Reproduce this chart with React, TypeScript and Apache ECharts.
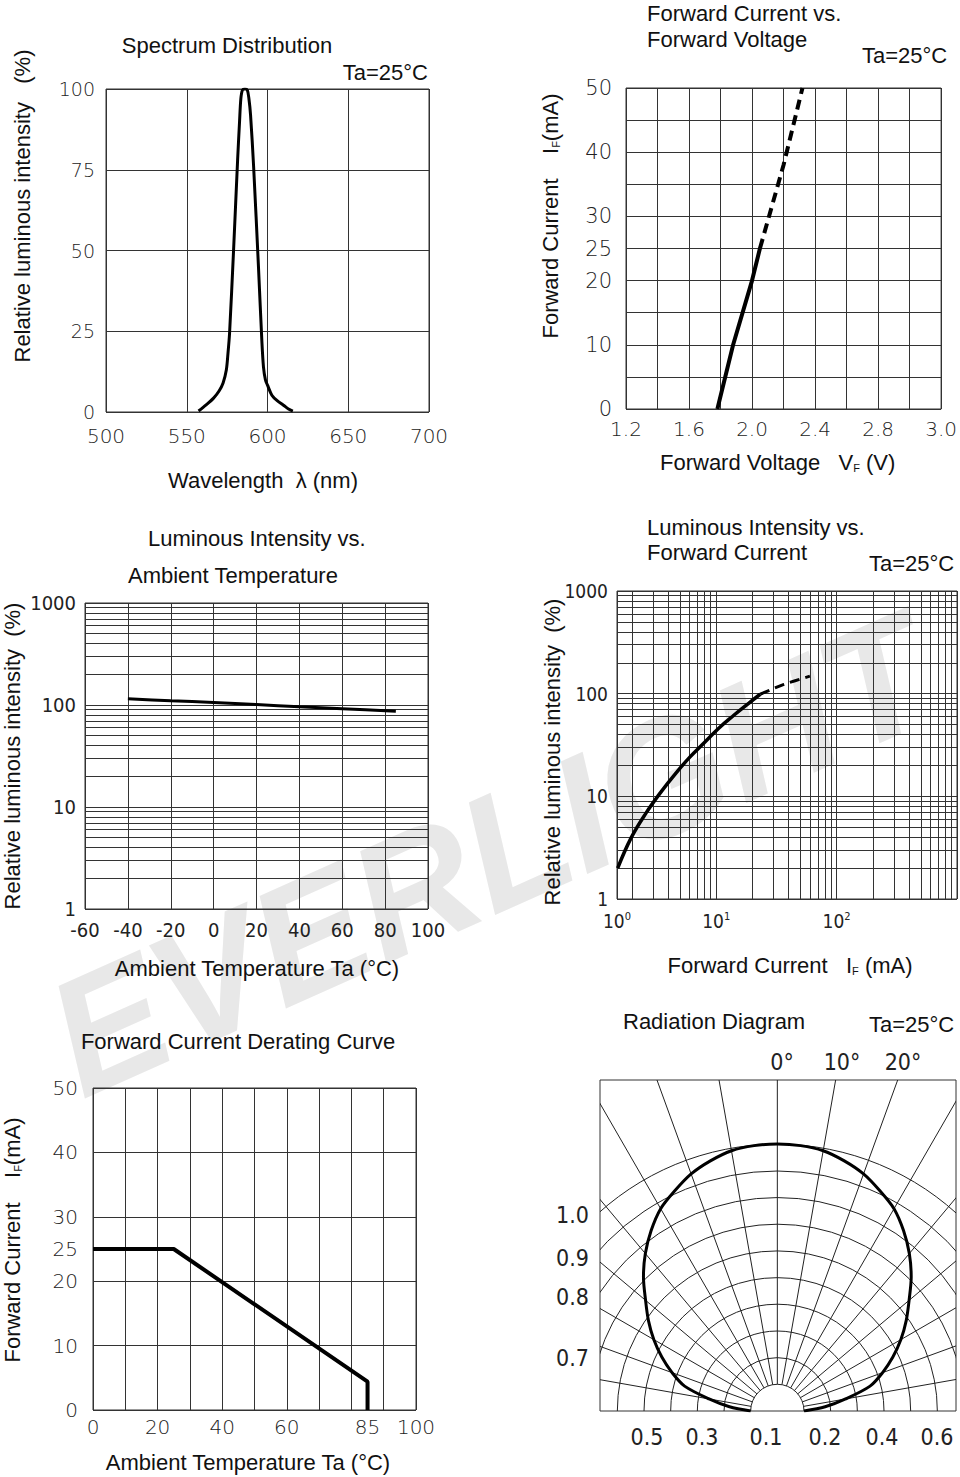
import React, { useEffect, useRef } from 'react';
import * as echarts from 'echarts';

// ---------------- Panel 1: Spectrum Distribution ----------------
const spectrumXTicks = [500, 550, 600, 650, 700];
const spectrumYTicks = [0, 25, 50, 75, 100];
const spectrumWavelength = [557.3, 562, 566.6, 570, 572.5, 574.5, 575.5, 576.5, 579, 581.5, 582.7, 583.5, 584.5, 586, 587.5, 588.5, 589.5, 591.4, 594.4, 596.5, 597.5, 598.7, 600, 602.7, 606, 609.9, 613, 615.7];
const spectrumIntensity = [0.3, 2.2, 4.3, 6.5, 9, 13, 18, 24.3, 50.2, 78.1, 90, 97, 99.7, 100, 99.7, 97, 92, 76, 45, 22, 14, 10, 8.3, 5.2, 3.5, 2.1, 0.9, 0.3];

// ---------------- Panel 2: Forward Current vs Forward Voltage ----------------
const vfTickValues = [1.2, 1.6, 2.0, 2.4, 2.8, 3.2];
const vfTickLabels = ['1.2', '1.6', '2.0', '2.4', '2.8', '3.0'];
const vfGridStep = 0.2;
const ifTickValues = [0, 10, 20, 25, 30, 40, 50];
const ifGridStep = 5;
const vfSolidV = [1.78, 1.88, 2.0, 2.05];
const vfSolidI = [0, 10, 20, 25];
const vfDashV = [2.05, 2.2, 2.32];
const vfDashI = [25, 38, 50];

// ---------------- Panel 3: Luminous Intensity vs Ambient Temperature ----------------
const taXTicks = [-60, -40, -20, 0, 20, 40, 60, 80, 100];
const logYLabels = ['1', '10', '100', '1000'];
const taTemp = [-40, -20, 0, 20, 40, 60, 85];
const taIntensity = [115, 110, 106, 101, 96, 92, 87];

// ---------------- Panel 4: Luminous Intensity vs Forward Current ----------------
const ivXMin = 1.5;
const ivXMax = 1000;
const ivExpLabels = ['0', '1', '2'];
const ivSolidI = [1.52, 1.96, 2.61, 3.47, 4.54, 6.04, 8.03, 10.5, 14.0, 18.6, 23.2];
const ivSolidRel = [2.0, 3.92, 6.86, 11.0, 16.4, 24.1, 33.7, 46.1, 61.6, 80.6, 98.7];
const ivDashI = [23.2, 36.5, 60];
const ivDashRel = [98.7, 123, 148];

// log paper minor lines
const logMantissas = [2, 3, 4, 5, 6, 7, 8, 9];
const logDecades = [1, 10, 100];

// ---------------- Panel 5: Derating Curve ----------------
const derXTickLabels = [0, 20, 40, 60, 85, 100];
const derYTickLabels = [0, 10, 20, 25, 30, 40, 50];
const derTemp = [0, 25, 85, 85];
const derCurrent = [25, 25, 4.4, 0];

// ---------------- Panel 6: Radiation Diagram ----------------
const radAngle = [-90, -85, -80, -75, -70, -65, -60, -55, -50, -45, -40, -35, -30, -25, -20, -15, -10, -5, 0, 5, 10, 15, 20, 25, 30, 35, 40, 45, 50, 55, 60, 65, 70, 75, 80, 85, 90];
const radIntensity = [0.1, 0.18, 0.26, 0.36, 0.42, 0.478, 0.535, 0.59, 0.645, 0.71, 0.77, 0.825, 0.875, 0.91, 0.945, 0.97, 0.99, 0.998, 1.0, 0.998, 0.99, 0.97, 0.945, 0.91, 0.875, 0.825, 0.77, 0.71, 0.645, 0.59, 0.535, 0.478, 0.42, 0.36, 0.26, 0.18, 0.1];
const radRings = [0.1, 0.2, 0.3, 0.4, 0.5, 0.6, 0.7, 0.8, 0.9, 1.0];
const radRays = [-80, -70, -60, -50, -40, -30, -20, -10, 0, 10, 20, 30, 40, 50, 60, 70, 80];
const radTopLabels = ['0°', '10°', '20°'];
const radLeftLabels = ['1.0', '0.9', '0.8', '0.7'];
const radBottomLabels = ['0.5', '0.3', '0.1', '0.2', '0.4', '0.6'];

// ---------------- styles ----------------
const TITLE_FONT = "'Liberation Sans', Arial, sans-serif";
const NUM_FONT = "'DejaVu Sans Light', 'DejaVu Sans', sans-serif";
const NARROW_FONT = "'Liberation Sans Narrow', 'DejaVu Sans Condensed', sans-serif";
const GRID_COLOR = '#333';
const TEXT_COLOR = '#111';
const NUM_COLOR = '#222';

function zip(a: number[], b: number[]) {
  return a.map((v, i) => [v, b[i]]);
}
function matchLabel(values: number[], labels: string[], v: number) {
  for (let i = 0; i < values.length; i++) if (Math.abs(values[i] - v) < 1e-6) return labels[i];
  return '';
}

type TO = { size?: number; font?: string; weight?: any; align?: string; rot?: number; color?: string; rich?: any; z?: number; style?: string };
function T(text: string, x: number, y: number, o: TO = {}) {
  const align = o.align || 'center';
  return {
    type: 'text',
    x,
    y,
    rotation: o.rot || 0,
    z: o.z ?? 10,
    silent: true,
    style: {
      text,
      fontSize: o.size || 22,
      fontFamily: o.font || TITLE_FONT,
      fontWeight: o.weight || 'normal',
      fontStyle: o.style || 'normal',
      fill: o.color || TEXT_COLOR,
      align,
      verticalAlign: 'middle',
      textAlign: align,
      textVerticalAlign: 'middle',
      rich: o.rich,
    },
  };
}

const subRich = {
  n: { fontSize: 22, fontFamily: TITLE_FONT, fill: TEXT_COLOR, color: TEXT_COLOR },
  s: { fontSize: 11, fontFamily: TITLE_FONT, fill: TEXT_COLOR, color: TEXT_COLOR, verticalAlign: 'bottom', lineHeight: 11 },
};

const axisBase = (gridIndex: number, position: string) => ({
  gridIndex,
  position,
  axisLine: { show: false, onZero: false },
  axisTick: { show: false },
  splitLine: { show: true, lineStyle: { color: GRID_COLOR, width: 1 } },
});
const numLabel = (size: number, margin: number, extra: any = {}) => ({
  fontFamily: NUM_FONT,
  fontWeight: 200,
  fontSize: size,
  color: NUM_COLOR,
  margin,
  ...extra,
});
const narrowLabel = (size: number, margin: number, extra: any = {}) => ({
  fontFamily: NARROW_FONT,
  fontSize: size,
  color: NUM_COLOR,
  margin,
  ...extra,
});

function minorSeries(xi: number, yi: number, axis: 'xAxis' | 'yAxis') {
  const vals = logDecades.flatMap((d) => logMantissas.map((m) => m * d));
  return {
    type: 'line',
    xAxisIndex: xi,
    yAxisIndex: yi,
    data: [],
    silent: true,
    symbol: 'none',
    z: 1,
    markLine: {
      silent: true,
      symbol: ['none', 'none'],
      label: { show: false },
      emphasis: { disabled: true },
      animation: false,
      lineStyle: { color: GRID_COLOR, width: 1, type: 'solid' },
      data: vals.map((v) => ({ [axis]: v })),
    },
  };
}

function curve(xi: number, yi: number, data: number[][], width: number, extra: any = {}) {
  return {
    type: 'line',
    xAxisIndex: xi,
    yAxisIndex: yi,
    data,
    symbol: 'none',
    silent: true,
    z: 5,
    lineStyle: { color: '#000', width, ...(extra.lineStyle || {}) },
    itemStyle: { color: '#000' },
    smooth: extra.smooth ?? false,
  };
}

function buildOption() {
  const deg = Math.PI / 180;
  const grid = [
    { left: 106, top: 89, width: 323, height: 323 },
    { left: 626, top: 88, width: 322, height: 321 },
    { left: 85, top: 603, width: 343, height: 306 },
    { left: 617, top: 591, width: 387, height: 308 },
    { left: 93, top: 1088, width: 323, height: 322 },
    { left: 600, top: 1080, width: 356, height: 331 },
  ].map((g) => ({ ...g, show: true, borderColor: GRID_COLOR, borderWidth: 1, backgroundColor: 'transparent', containLabel: false }));

  const xAxis = [
    {
      ...axisBase(0, 'bottom'),
      type: 'value',
      min: spectrumXTicks[0],
      max: spectrumXTicks[spectrumXTicks.length - 1],
      interval: spectrumXTicks[1] - spectrumXTicks[0],
      axisLabel: numLabel(20, 14),
    },
    {
      ...axisBase(1, 'bottom'),
      type: 'value',
      min: vfTickValues[0],
      max: vfTickValues[vfTickValues.length - 1],
      interval: vfGridStep,
      axisLabel: numLabel(20, 10, { formatter: (v: number) => matchLabel(vfTickValues, vfTickLabels, v) }),
    },
    {
      ...axisBase(2, 'bottom'),
      type: 'value',
      min: taXTicks[0],
      max: taXTicks[taXTicks.length - 1],
      interval: taXTicks[1] - taXTicks[0],
      axisLabel: narrowLabel(20, 11),
    },
    {
      ...axisBase(3, 'bottom'),
      type: 'log',
      logBase: 10,
      min: ivXMin,
      max: ivXMax,
      axisLabel: narrowLabel(19, 12, {
        formatter: (v: number) => {
          const e = Math.round(Math.log10(v));
          return e < ivExpLabels.length ? `{b|10}{s|${ivExpLabels[e]}}` : '';
        },
        rich: {
          b: { fontFamily: NARROW_FONT, fontSize: 19, color: NUM_COLOR },
          s: { fontFamily: NARROW_FONT, fontSize: 11, color: NUM_COLOR, verticalAlign: 'top', lineHeight: 11 },
        },
      }),
    },
    {
      ...axisBase(4, 'bottom'),
      type: 'value',
      min: derXTickLabels[0],
      max: derXTickLabels[derXTickLabels.length - 1],
      interval: 10,
      axisLabel: { show: false },
    },
    {
      ...axisBase(4, 'bottom'),
      type: 'value',
      min: derXTickLabels[0],
      max: derXTickLabels[derXTickLabels.length - 1],
      interval: 5,
      splitLine: { show: false },
      axisLabel: numLabel(20, 7, { formatter: (v: number) => (derXTickLabels.includes(Math.round(v)) ? String(Math.round(v)) : '') }),
    },
    { ...axisBase(5, 'bottom'), type: 'value', min: -0.665, max: 0.67, show: false },
  ];

  const yAxis = [
    {
      ...axisBase(0, 'left'),
      type: 'value',
      min: spectrumYTicks[0],
      max: spectrumYTicks[spectrumYTicks.length - 1],
      interval: spectrumYTicks[1] - spectrumYTicks[0],
      axisLabel: numLabel(19, 11),
    },
    {
      ...axisBase(1, 'left'),
      type: 'value',
      min: ifTickValues[0],
      max: ifTickValues[ifTickValues.length - 1],
      interval: ifGridStep,
      axisLabel: numLabel(21, 14, { formatter: (v: number) => matchLabel(ifTickValues, ifTickValues.map(String), v) }),
    },
    {
      ...axisBase(2, 'left'),
      type: 'log',
      logBase: 10,
      min: 1,
      max: 1000,
      axisLabel: narrowLabel(20, 9, { formatter: (v: number) => logYLabels[Math.round(Math.log10(v))] ?? '' }),
    },
    {
      ...axisBase(3, 'left'),
      type: 'log',
      logBase: 10,
      min: 1,
      max: 1000,
      axisLabel: narrowLabel(19, 9, { formatter: (v: number) => logYLabels[Math.round(Math.log10(v))] ?? '' }),
    },
    {
      ...axisBase(4, 'left'),
      type: 'value',
      min: derYTickLabels[0],
      max: derYTickLabels[derYTickLabels.length - 1],
      interval: 10,
      axisLabel: { show: false },
    },
    {
      ...axisBase(4, 'left'),
      type: 'value',
      min: derYTickLabels[0],
      max: derYTickLabels[derYTickLabels.length - 1],
      interval: 5,
      splitLine: { show: false },
      axisLabel: numLabel(20, 15, { formatter: (v: number) => (derYTickLabels.includes(Math.round(v)) ? String(Math.round(v)) : '') }),
    },
    { ...axisBase(5, 'left'), type: 'value', min: 0, max: 1.24, show: false },
  ];

  const radXY = radAngle.map((a, i) => [radIntensity[i] * Math.sin(a * deg), radIntensity[i] * Math.cos(a * deg)]);

  const series: any[] = [
    curve(0, 0, zip(spectrumWavelength, spectrumIntensity), 3, { smooth: 0.3 }),
    curve(1, 1, zip(vfSolidV, vfSolidI), 4),
    curve(1, 1, zip(vfDashV, vfDashI), 4, { lineStyle: { type: [10, 6] } }),
    minorSeries(2, 2, 'yAxis'),
    curve(2, 2, zip(taTemp, taIntensity), 3, { smooth: 0.3 }),
    minorSeries(3, 3, 'yAxis'),
    minorSeries(3, 3, 'xAxis'),
    curve(3, 3, zip(ivSolidI, ivSolidRel), 3.5, { smooth: 0.4 }),
    curve(3, 3, zip(ivDashI, ivDashRel), 3, { smooth: 0.3, lineStyle: { type: [10, 6] } }),
    curve(4, 4, zip(derTemp, derCurrent), 4),
    {
      type: 'custom',
      xAxisIndex: 6,
      yAxisIndex: 6,
      clip: true,
      silent: true,
      z: 2,
      data: radRings.map((r) => [r, 0]),
      renderItem: (params: any, api: any) => {
        const r = api.value(0);
        const c = api.coord([0, 0]);
        const rp = api.size([r, 0])[0];
        return {
          type: 'arc',
          shape: { cx: c[0], cy: c[1], r: rp, startAngle: Math.PI, endAngle: 2 * Math.PI },
          style: { stroke: '#222', lineWidth: 1, fill: 'none' },
        };
      },
    },
    {
      type: 'custom',
      xAxisIndex: 6,
      yAxisIndex: 6,
      clip: true,
      silent: true,
      z: 2,
      data: radRays.map((a) => [a, 0]),
      renderItem: (params: any, api: any) => {
        const a = api.value(0) * deg;
        const p1 = api.coord([radRings[0] * Math.sin(a), radRings[0] * Math.cos(a)]);
        const p2 = api.coord([3 * Math.sin(a), 3 * Math.cos(a)]);
        return {
          type: 'line',
          shape: { x1: p1[0], y1: p1[1], x2: p2[0], y2: p2[1] },
          style: { stroke: '#222', lineWidth: 1 },
        };
      },
    },
    curve(6, 6, radXY, 3, { smooth: 0.3 }),
  ];

  const graphic: any[] = [
    // watermark
    T('EVERLIGHT', 490, 855, { size: 165, weight: 'bold', style: 'italic', color: '#e8e8e8', rot: 0.42, z: -10 }),

    // Panel 1
    T('Spectrum Distribution', 227, 45),
    T('Ta=25°C', 428, 72, { align: 'right' }),
    T('Relative luminous intensity   (%)', 22, 206, { rot: Math.PI / 2 }),
    T('Wavelength  λ (nm)', 263, 480),

    // Panel 2
    T('Forward Current vs.', 647, 13, { align: 'left' }),
    T('Forward Voltage', 647, 39, { align: 'left' }),
    T('Ta=25°C', 862, 55, { align: 'left' }),
    T('{n|Forward Current    I}{s|F}{n|(mA)}', 550, 216, { rot: Math.PI / 2, rich: subRich }),
    T('{n|Forward Voltage   V}{s|F}{n| (V)}', 660, 462, { align: 'left', rich: subRich }),

    // Panel 3
    T('Luminous Intensity vs.', 148, 538, { align: 'left' }),
    T('Ambient Temperature', 128, 575, { align: 'left' }),
    T('Relative luminous intensity  (%)', 12, 756, { rot: Math.PI / 2 }),
    T('Ambient Temperature Ta (°C)', 257, 968),

    // Panel 4
    T('Luminous Intensity vs.', 647, 527, { align: 'left' }),
    T('Forward Current', 647, 552, { align: 'left' }),
    T('Ta=25°C', 869, 563, { align: 'left' }),
    T('Relative luminous intensity  (%)', 552, 752, { rot: Math.PI / 2 }),
    T('{n|Forward Current   I}{s|F}{n| (mA)}', 790, 965, { rich: subRich }),

    // Panel 5
    T('Forward Current Derating Curve', 238, 1041),
    T('{n|Forward Current    I}{s|F}{n|(mA)}', 12, 1240, { rot: Math.PI / 2, rich: subRich }),
    T('Ambient Temperature Ta (°C)', 248, 1462),

    // Panel 6
    T('Radiation Diagram', 623, 1021, { align: 'left' }),
    T('Ta=25°C', 869, 1024, { align: 'left' }),
  ];
  const topX = [782, 842, 903];
  radTopLabels.forEach((t, i) => graphic.push(T(t, topX[i], 1062, { font: NARROW_FONT, size: 23, color: NUM_COLOR })));
  const leftY = [1215, 1258, 1297, 1358];
  radLeftLabels.forEach((t, i) => graphic.push(T(t, 589, leftY[i], { font: NARROW_FONT, size: 23, color: NUM_COLOR, align: 'right' })));
  const botX = [647, 702, 766, 825, 882, 937];
  radBottomLabels.forEach((t, i) => graphic.push(T(t, botX[i], 1437, { font: NARROW_FONT, size: 23, color: NUM_COLOR })));

  return {
    animation: false,
    backgroundColor: '#fff',
    grid,
    xAxis,
    yAxis,
    series,
    graphic,
  };
}

const App = () => {
  const ref = useRef<HTMLDivElement>(null);
  useEffect(() => {
    if (!ref.current) return;
    const chart = echarts.init(ref.current, null, { renderer: 'svg' });
    chart.setOption(buildOption() as any);
    return () => chart.dispose();
  }, []);
  return <div ref={ref} style={{ position: 'absolute', left: 0, top: 0, width: 960, height: 1477, background: '#fff' }} />;
};

export default App;
